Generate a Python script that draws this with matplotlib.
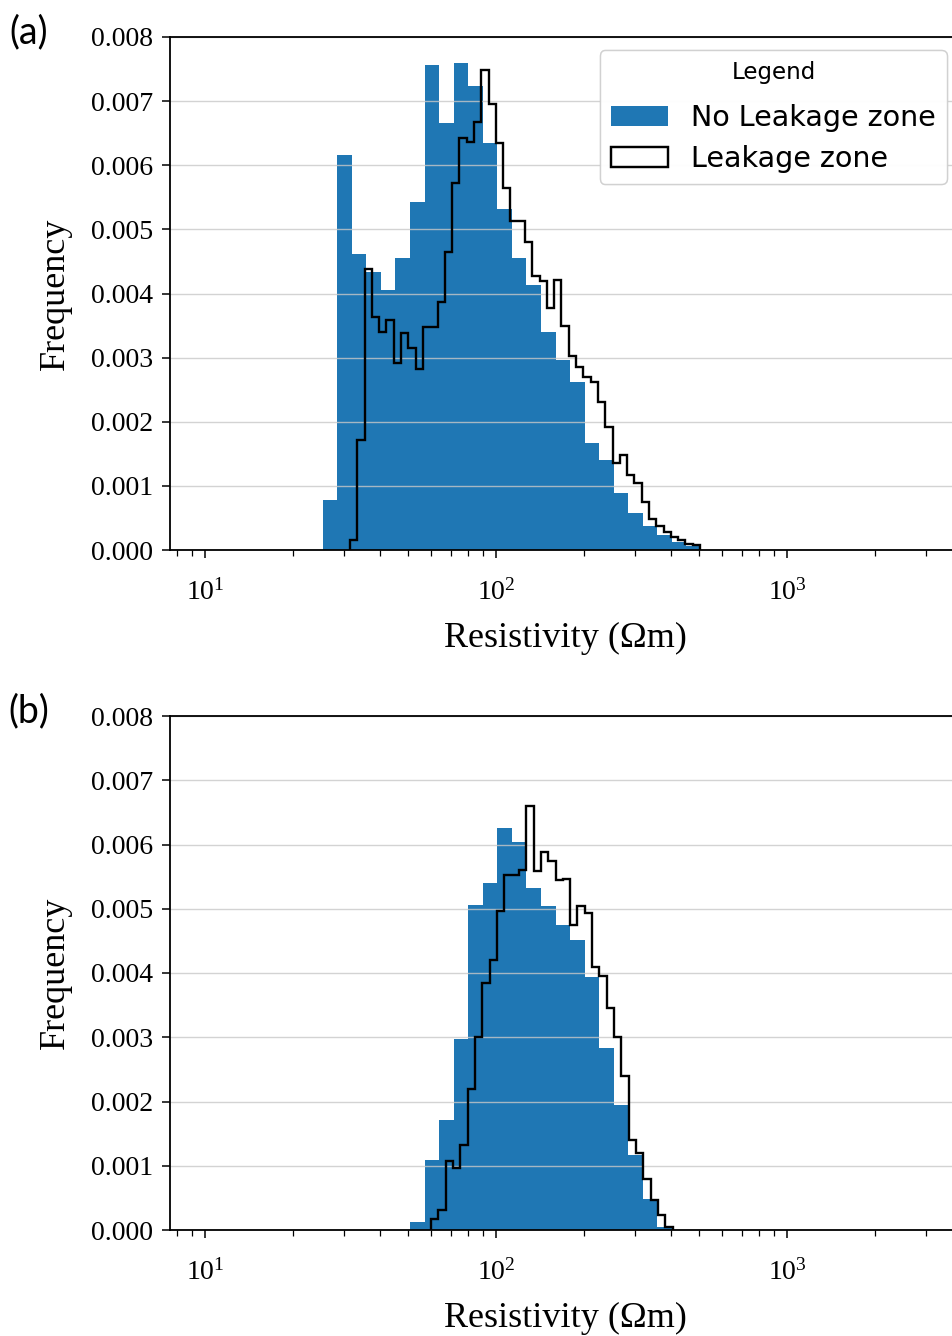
import numpy as np
from matplotlib import pyplot as plt

plt.rcParams['font.family'] = 'Liberation Serif'
plt.rcParams['mathtext.fontset'] = 'custom'
plt.rcParams['mathtext.rm'] = 'Liberation Serif'
plt.rcParams['mathtext.it'] = 'Liberation Serif:italic'

# histogram heights (density) per log-spaced bin
# (a) shallow section
a_noleak_start, a_noleak_step = 1.4045, 0.05
a_noleak = [0.00078, 0.00616, 0.00462, 0.00433, 0.00406, 0.00455, 0.00543, 0.00756,
            0.00666, 0.00759, 0.00724, 0.00635, 0.00531, 0.00455, 0.00413, 0.0034,
            0.00297, 0.00262, 0.00167, 0.00141, 0.00089, 0.00057, 0.00037, 0.00023,
            0.00013, 0.00006]
a_leak_start, a_leak_step = 1.4983, 0.02506
a_leak = [0.00016, 0.00171, 0.00438, 0.00363, 0.0034, 0.00359, 0.00291, 0.00338,
          0.00315, 0.00283, 0.00348, 0.00348, 0.00386, 0.00465, 0.00572, 0.00642,
          0.00637, 0.00668, 0.00748, 0.00695, 0.00635, 0.00565, 0.00513, 0.00513,
          0.0048, 0.00428, 0.0042, 0.00378, 0.00421, 0.0035, 0.00303, 0.00285,
          0.0027, 0.00262, 0.00231, 0.00192, 0.00135, 0.00148, 0.00117, 0.00104,
          0.00075, 0.00049, 0.00037, 0.00028, 0.00021, 0.00016, 0.0001, 0.00008]

# (b) deep section
b_noleak_start, b_noleak_step = 1.7045, 0.05
b_noleak = [0.00013, 0.00109, 0.00171, 0.00298, 0.00506, 0.0054, 0.00625, 0.00604,
            0.00533, 0.00504, 0.00474, 0.00452, 0.00394, 0.00283, 0.00194, 0.00117,
            0.00049, 0.00005]
b_leak_start, b_leak_step = 1.7766, 0.02517
b_leak = [0.00017, 0.00031, 0.00108, 0.00096, 0.00132, 0.00219, 0.003, 0.00384,
          0.00421, 0.00496, 0.00553, 0.00553, 0.00561, 0.0066, 0.00558, 0.00589,
          0.00574, 0.00545, 0.00546, 0.00475, 0.00505, 0.00494, 0.0041, 0.00396,
          0.00345, 0.00301, 0.00239, 0.0014, 0.0012, 0.0008, 0.00047, 0.00023,
          0.00005]

yticks = [0.000, 0.001, 0.002, 0.003, 0.004, 0.005, 0.006, 0.007, 0.008]


def edges(start, step, n):
    return 10 ** (start + step * np.arange(n + 1))


def draw_hist(ax, vals, start, step, **kw):
    e = edges(start, step, len(vals))
    centers = np.sqrt(e[:-1] * e[1:])
    return ax.hist(centers, bins=e, weights=vals, **kw)


W, H = 952, 1336
fig = plt.figure(figsize=(W / 100, H / 100), dpi=100)

panels = [
    ('(a)', 37, 550, a_noleak, a_noleak_start, a_noleak_step, a_leak, a_leak_start, a_leak_step),
    ('(b)', 716, 1230, b_noleak, b_noleak_start, b_noleak_step, b_leak, b_leak_start, b_leak_step),
]

for tag, top, bot, nl, nl0, nls, lk, lk0, lks in panels:
    ax = fig.add_axes([170 / W, 1 - bot / H, 790 / W, (bot - top) / H])
    draw_hist(ax, nl, nl0, nls, histtype='stepfilled', color='#1f77b4',
              label='No Leakage zone')
    draw_hist(ax, lk, lk0, lks, histtype='step', color='black', lw=1.7,
              label='Leakage zone')
    ax.set_xscale('log')
    ax.set_xlim(10 ** 0.8797, 10 ** 3.5945)
    ax.set_ylim(0, 0.008)
    ax.set_yticks(yticks)
    ax.set_yticklabels(['%.3f' % v for v in yticks])
    ax.grid(axis='y', color='#c8c8c8', lw=1.0, alpha=0.8)
    for s in ax.spines.values():
        s.set_linewidth(1.3)
    ax.tick_params(axis='both', which='major', labelsize=20, length=6, width=1.1, direction='out')
    ax.tick_params(axis='x', which='major', pad=15)
    ax.tick_params(axis='y', which='major', pad=6)
    ax.tick_params(axis='x', which='minor', length=4, width=0.9)
    ax.set_ylabel('Frequency', fontsize=26, labelpad=14)
    ax.set_xlabel('Resistivity (\u03a9m)', fontsize=26, labelpad=12)
    leg = ax.legend(loc='upper right', bbox_to_anchor=(947 / W, 1 - 50 / H),
                    bbox_transform=fig.transFigure, borderaxespad=0,
                    title='Legend', prop={'family': 'DejaVu Sans', 'size': 20.5},
                    title_fontproperties={'family': 'DejaVu Sans', 'size': 16.5},
                    labelspacing=0.45, edgecolor='#cccccc')
    # a bit more room under the legend title
    leg._legend_box.sep = 14
    fig.text(29 / W, 1 - (top - 5) / H, tag, fontsize=27, family='Lato',
             ha='center', va='center')

plt.savefig('out.png', dpi=100)
